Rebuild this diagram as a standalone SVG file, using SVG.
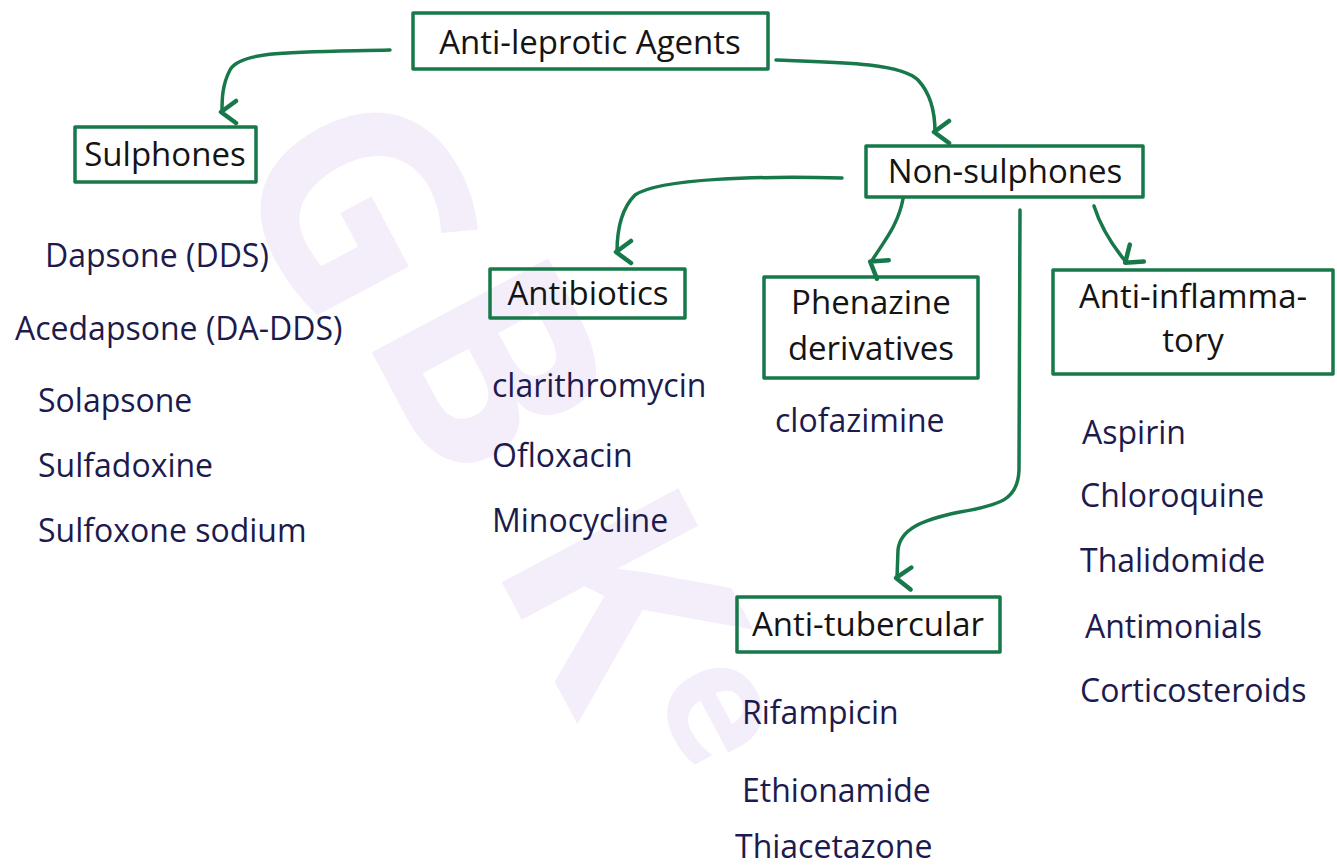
<svg xmlns="http://www.w3.org/2000/svg" width="1337" height="867" viewBox="0 0 1337 867">
<defs>
<style>
.box{fill:none;stroke:#17784a;stroke-width:3.5;stroke-linejoin:round}
.lbl{font-family:"Open Sans","Liberation Sans",sans-serif;font-size:33px;fill:#141414}
.item{font-family:"Open Sans","Liberation Sans",sans-serif;font-size:32px;fill:#1d1b4d}
.con{fill:none;stroke:#17784a;stroke-width:3.5;stroke-linecap:round}
.wm{font-family:"Open Sans","Liberation Sans",sans-serif;font-weight:bold;font-size:280px;fill:#f4edfa}
</style>
<marker id="ah" viewBox="0 0 28 28" refX="14" refY="20" markerWidth="28" markerHeight="28" markerUnits="userSpaceOnUse" orient="auto-start-reverse">
<path d="M3,6 L14,21 L25,6" fill="none" stroke="#17784a" stroke-width="4.5" stroke-linecap="round" stroke-linejoin="round"/>
</marker>
</defs>
<rect width="1337" height="867" fill="#ffffff"/>
<g id="watermark">
<text class="wm" transform="translate(225,160) rotate(62)">G</text>
<text class="wm" transform="translate(360,330) rotate(62)">B</text>
<text class="wm" transform="translate(490,560) rotate(62)">K</text>
<text class="wm" transform="translate(650,690) rotate(62) scale(0.6)">e</text>
</g>
<g id="connectors">
<path class="con" d="M390,50 C300,52 240,50 230,70 C222,85 222,100 222,112" marker-end="url(#ah)"/>
<path class="con" d="M776,60 C830,62 900,62 918,80 C932,95 935,115 935,132" marker-end="url(#ah)"/>
<path class="con" d="M842,178 C760,176 660,178 635,195 C620,210 617,235 617,252" marker-end="url(#ah)"/>
<path class="con" d="M903,199 C898,225 885,240 871,262" marker-end="url(#ah)"/>
<path class="con" d="M1094,206 C1100,225 1112,245 1126,262" marker-end="url(#ah)"/>
<path class="con" d="M1020,210 L1019,470 C1018,500 1000,505 960,512 C920,520 900,530 898,550 L897,578" marker-end="url(#ah)"/>
</g>
<g id="anti-leprotic">
<rect class="box" x="413" y="13" width="355" height="56"/>
<text class="lbl" x="590" y="54" text-anchor="middle">Anti-leprotic Agents</text>
</g>
<g id="sulphones">
<rect class="box" x="75" y="127" width="181" height="55"/>
<text class="lbl" x="165" y="166" text-anchor="middle">Sulphones</text>
</g>
<g id="non-sulphones">
<rect class="box" x="866" y="146" width="277" height="51"/>
<text class="lbl" x="1005" y="183" text-anchor="middle">Non-sulphones</text>
</g>
<g id="antibiotics">
<rect class="box" x="490" y="269" width="195" height="49"/>
<text class="lbl" x="588" y="305" text-anchor="middle">Antibiotics</text>
</g>
<g id="phenazine">
<rect class="box" x="764" y="277" width="214" height="101"/>
<text class="lbl" x="871" y="314" text-anchor="middle">Phenazine</text>
<text class="lbl" x="871" y="360" text-anchor="middle">derivatives</text>
</g>
<g id="anti-inflammatory">
<rect class="box" x="1053" y="270" width="280" height="104"/>
<text class="lbl" x="1193" y="308" text-anchor="middle">Anti-inflamma-</text>
<text class="lbl" x="1193" y="352" text-anchor="middle">tory</text>
</g>
<g id="anti-tubercular">
<rect class="box" x="737" y="597" width="263" height="55"/>
<text class="lbl" x="868" y="636" text-anchor="middle">Anti-tubercular</text>
</g>
<g id="sulphone-drugs">
<text class="item" x="45" y="267">Dapsone (DDS)</text>
<text class="item" x="15" y="340">Acedapsone (DA-DDS)</text>
<text class="item" x="38" y="412">Solapsone</text>
<text class="item" x="38" y="477">Sulfadoxine</text>
<text class="item" x="38" y="542">Sulfoxone sodium</text>
</g>
<g id="antibiotic-drugs">
<text class="item" x="492" y="397">clarithromycin</text>
<text class="item" x="492" y="467">Ofloxacin</text>
<text class="item" x="492" y="532">Minocycline</text>
</g>
<g id="phenazine-drugs">
<text class="item" x="775" y="432">clofazimine</text>
</g>
<g id="anti-inflammatory-drugs">
<text class="item" x="1082" y="444">Aspirin</text>
<text class="item" x="1080" y="507">Chloroquine</text>
<text class="item" x="1080" y="572">Thalidomide</text>
<text class="item" x="1085" y="638">Antimonials</text>
<text class="item" x="1080" y="702">Corticosteroids</text>
</g>
<g id="anti-tubercular-drugs">
<text class="item" x="742" y="724">Rifampicin</text>
<text class="item" x="742" y="802">Ethionamide</text>
<text class="item" x="735" y="858">Thiacetazone</text>
</g>
</svg>
